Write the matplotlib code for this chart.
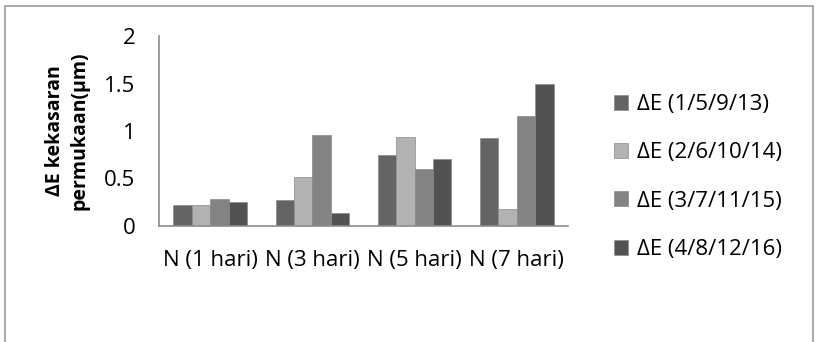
import numpy as np
import matplotlib.pyplot as plt
from matplotlib.patches import Rectangle

categories = ['N (1 hari)', 'N (3 hari)', 'N (5 hari)', 'N (7 hari)']
series_names = ['ΔE (1/5/9/13)', 'ΔE (2/6/10/14)', 'ΔE (3/7/11/15)', 'ΔE (4/8/12/16)']
s1 = [0.22, 0.27, 0.75, 0.93]
s2 = [0.22, 0.52, 0.94, 0.175]
s3 = [0.28, 0.955, 0.60, 1.16]
s4 = [0.255, 0.14, 0.71, 1.49]
series = [s1, s2, s3, s4]
bar_colors = ['#646464', '#b2b2b2', '#838383', '#525252']

plt.rcParams['font.family'] = ['Open Sans', 'DejaVu Sans']

fig = plt.figure(figsize=(8.17, 3.42), dpi=100)
ax = fig.add_axes([159 / 817, 1 - 226 / 342, (568 - 159) / 817, (226 - 36) / 342])

x = np.arange(len(categories))
w = 0.18
for i, vals in enumerate(series):
    ax.bar(x + (i - 1.5) * w, vals, w, color=bar_colors[i], edgecolor='#8a8a8a',
           linewidth=0.5, label=series_names[i])

ax.set_xlim(-0.5, len(categories) - 0.5)
ax.set_ylim(0, 2)
ax.set_yticks([0, 0.5, 1, 1.5, 2])
ax.set_yticklabels(['0', '0.5', '1', '1.5', '2'], fontsize=16)
ax.set_xticks(x)
ax.set_xticklabels(categories, fontsize=16)
ax.tick_params(axis='both', length=0)
ax.tick_params(axis='x', pad=17)
ax.tick_params(axis='y', pad=17)
for side in ['top', 'right']:
    ax.spines[side].set_visible(False)
ax.spines['left'].set_color('#8c8c8c')
ax.spines['bottom'].set_color('#8c8c8c')
ax.spines['left'].set_linewidth(1.2)
ax.spines['bottom'].set_linewidth(1.2)

ax.set_ylabel('ΔE kekasaran\npermukaan(µm)', fontsize=14, fontweight='bold',
              linespacing=1.25)
ax.yaxis.set_label_coords(-0.171, 0.5)

fig.legend(loc='upper left', bbox_to_anchor=(605 / 817, 1 - 85 / 342), frameon=False,
           fontsize=16, handlelength=0.65, handleheight=0.65, handletextpad=0.4,
           labelspacing=1.23, borderaxespad=0)

fig.patches.append(Rectangle((5 / 817, -0.1), (813 - 5) / 817, 1.1 - 6 / 342,
                             transform=fig.transFigure, fill=False,
                             edgecolor='#9a9a9a', linewidth=1.2))

fig.savefig('out.png', dpi=100)
